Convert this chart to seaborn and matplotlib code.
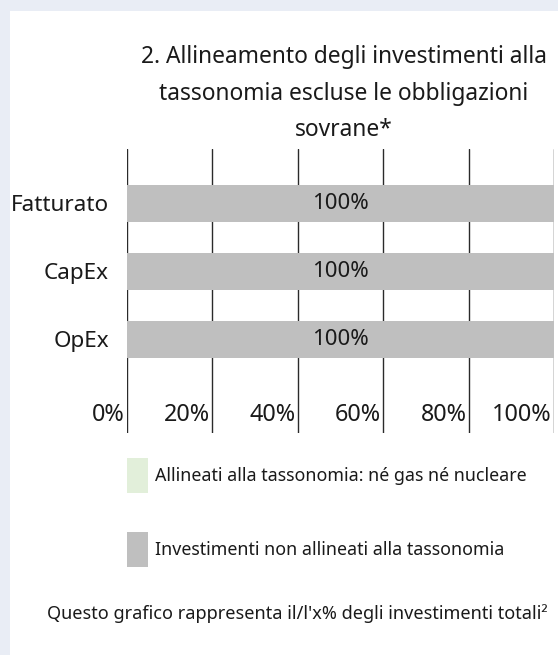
import matplotlib
matplotlib.use("Agg")
import matplotlib.pyplot as plt
import matplotlib.transforms as mtransforms
from matplotlib.patches import Patch, Rectangle
import seaborn as sns
import pandas as pd

categories = ["Fatturato", "CapEx", "OpEx"]
aligned_values = [0, 0, 0]
not_aligned_values = [100, 100, 100]
bar_labels = ["100%", "100%", "100%"]
tick_values = [0, 20, 40, 60, 80, 100]
tick_labels = ["0%", "20%", "40%", "60%", "80%", "100%"]
legend_labels = ["Allineati alla tassonomia: né gas né nucleare",
                 "Investimenti non allineati alla tassonomia"]
title = "2. Allineamento degli investimenti alla\ntassonomia escluse le obbligazioni\nsovrane*"
footer = "Questo grafico rappresenta il/l'x% degli investimenti totali²"

GREEN = "#e2efda"
GRAY = "#bfbfbf"

sns.set_theme(style="white")
plt.rcParams["font.family"] = ["Noto Sans", "DejaVu Sans"]

W, H = 558, 655
DPI = 100
fig = plt.figure(figsize=(W / DPI, H / DPI), dpi=DPI)
fig.patch.set_facecolor("#e9edf5")
fig.patches.append(Rectangle((10 / W, 0), 1, 1 - 11 / H, transform=fig.transFigure,
                             facecolor="white", edgecolor="none", zorder=-5))

ax_left, ax_right = 127, 554
ax_top, ax_bottom = 149, 433
ax = fig.add_axes([ax_left / W, 1 - ax_bottom / H, (ax_right - ax_left) / W, (ax_bottom - ax_top) / H])
ax.set_zorder(2)
ax.set_facecolor("none")

df = pd.DataFrame({"cat": categories, "aligned": aligned_values, "not_aligned": not_aligned_values})
sns.barplot(data=df, x="aligned", y="cat", color=GREEN, width=0.54, ax=ax, saturation=1, zorder=3,
            linewidth=0)
sns.barplot(data=df, x="not_aligned", y="cat", color=GRAY, width=0.54, ax=ax, saturation=1, zorder=3,
            linewidth=0)
ax.bar_label(ax.containers[1], labels=bar_labels, label_type="center", fontsize=16, color="#1a1a1a")

ax.set_xlim(0, 100)
ax.set_ylim(3.375, -0.80)
ax.set_xlabel("")
ax.set_ylabel("")
for s in ax.spines.values():
    s.set_visible(False)

ax.set_xticks(tick_values)
ax.set_xticklabels(tick_labels, fontsize=16.8, color="#1a1a1a", ha="right")
ax.grid(axis="x", color="#2a2a2a", linewidth=1.0, zorder=1)
ax.grid(axis="y", visible=False)
ax.set_axisbelow(True)
ax.tick_params(axis="x", length=0, pad=-21.5)
off = mtransforms.ScaledTranslation(-2 / DPI, 0, fig.dpi_scale_trans)
for lab in ax.get_xticklabels():
    lab.set_transform(lab.get_transform() + off)

ax.tick_params(axis="y", length=0, pad=13, labelsize=16.2, labelcolor="#1a1a1a")

fig.text(344 / W, 1 - 45 / H, title, ha="center", va="top", fontsize=16.4,
         color="#1a1a1a", linespacing=1.7, multialignment="center")

handles = [Patch(facecolor=GREEN, edgecolor="none"), Patch(facecolor=GRAY, edgecolor="none")]
fs_leg = 12.85
px = fs_leg * DPI / 72
fig.legend(handles, legend_labels, loc="upper left", bbox_to_anchor=(127 / W, 1 - 458 / H),
           frameon=False, fontsize=fs_leg, borderpad=0, borderaxespad=0,
           handlelength=21 / px, handleheight=1.3 * 36 / px, handletextpad=7 / px,
           labelspacing=39 / px, labelcolor="#1a1a1a")

fig.text(297 / W, 1 - 614 / H, footer, ha="center", va="center", fontsize=13.05, color="#1a1a1a")

fig.savefig("out.png", dpi=DPI)
